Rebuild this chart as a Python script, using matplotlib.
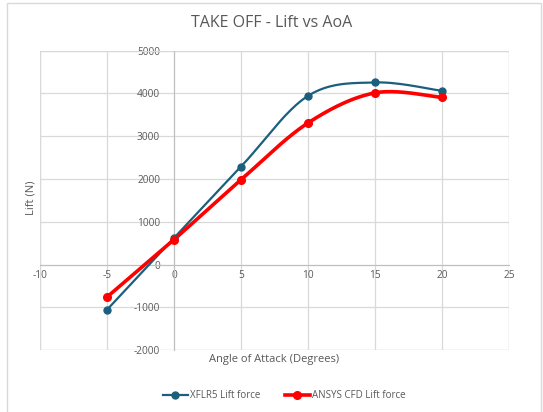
import numpy as np
import matplotlib.pyplot as plt
from matplotlib.patches import Rectangle

plt.rcParams['font.family'] = ['Open Sans', 'DejaVu Sans']
plt.rcParams['axes.unicode_minus'] = False

aoa = [-5, 0, 5, 10, 15, 20]
xflr5_lift = [-1054, 625, 2290, 3944, 4258, 4061]
ansys_lift = [-757, 585, 1984, 3311, 4014, 3906]

x_ticks = [-10, -5, 0, 5, 10, 15, 20, 25]
y_ticks = [-2000, -1000, 0, 1000, 2000, 3000, 4000, 5000]


def smooth(xs, ys, n=40):
    # cubic Bezier through the points, tangents from neighbours (Catmull-Rom style)
    p = np.column_stack([xs, ys]).astype(float)
    out = []
    for i in range(len(p) - 1):
        p0 = p[i - 1] if i > 0 else p[i]
        p3 = p[i + 2] if i + 2 < len(p) else p[i + 1]
        c1 = p[i] + (p[i + 1] - p0) / 6
        c2 = p[i + 1] - (p3 - p[i]) / 6
        t = np.linspace(0, 1, n)[:, None]
        seg = ((1 - t) ** 3 * p[i] + 3 * (1 - t) ** 2 * t * c1
               + 3 * (1 - t) * t ** 2 * c2 + t ** 3 * p[i + 1])
        out.append(seg if i == 0 else seg[1:])
    s = np.vstack(out)
    return s[:, 0], s[:, 1]


fig = plt.figure(figsize=(5.43, 4.12), dpi=100)
ax = fig.add_axes([0.0737, 0.150, 0.8637, 0.727])

blue = '#1B5F7E'
red = '#FF0000'
grey = '#595959'

sx, sy = smooth(aoa, xflr5_lift)
ax.plot(sx, sy, color=blue, lw=1.6, zorder=3)
ax.plot(aoa, xflr5_lift, 'o', color=blue, ms=5, zorder=4)
sx, sy = smooth(aoa, ansys_lift)
ax.plot(sx, sy, color=red, lw=2.6, zorder=3)
ax.plot(aoa, ansys_lift, 'o', color=red, ms=5.5, zorder=4)

ax.set_xlim(-10, 25)
ax.set_ylim(-2000, 5000)
ax.set_xticks(x_ticks)
ax.set_yticks(y_ticks)
ax.grid(True, color='#D9D9D9', lw=0.9)
ax.set_axisbelow(True)

for side in ['top', 'right']:
    ax.spines[side].set_visible(False)
ax.spines['left'].set_position(('data', 0))
ax.spines['bottom'].set_position(('data', 0))
ax.spines['left'].set_color('#BFBFBF')
ax.spines['bottom'].set_color('#BFBFBF')
ax.tick_params(length=0, labelsize=7.3, labelcolor=grey)
ax.tick_params(axis='y', pad=10)
ax.tick_params(axis='x', pad=4)

# outer frame of the plot area
for x in (-10, 25):
    ax.axvline(x, color='#D9D9D9', lw=0.9)
ax.axhline(-2000, color='#D9D9D9', lw=0.9)
ax.axhline(5000, color='#D9D9D9', lw=0.9)

fig.text(0.50, 0.943, 'TAKE OFF - Lift vs AoA', ha='center', va='center',
         fontsize=11.5, color=grey)
fig.text(0.505, 0.127, 'Angle of Attack (Degrees)', ha='center', va='center',
         fontsize=8, color=grey)
fig.text(0.058, 0.52, 'Lift (N)', ha='center', va='center', rotation=90,
         fontsize=8, color=grey)

handles = [plt.Line2D([], [], color=blue, lw=1.6, marker='o', ms=5),
           plt.Line2D([], [], color=red, lw=2.6, marker='o', ms=5.5)]
ax.legend(handles=handles, labels=['XFLR5 Lift force', 'ANSYS CFD Lift force'],
          loc='center', bbox_to_anchor=(0.523, 0.04), bbox_transform=fig.transFigure,
          ncol=2, frameon=False, fontsize=7, handlelength=2.6,
          columnspacing=2.5, handletextpad=0.2, labelcolor=grey)

fig.patches.append(Rectangle((7 / 543, -0.01), 534 / 543, 1 - 3 / 412 + 0.01,
                             transform=fig.transFigure, fill=False,
                             edgecolor='#D9D9D9', lw=1))

fig.savefig('out.png', dpi=100)
